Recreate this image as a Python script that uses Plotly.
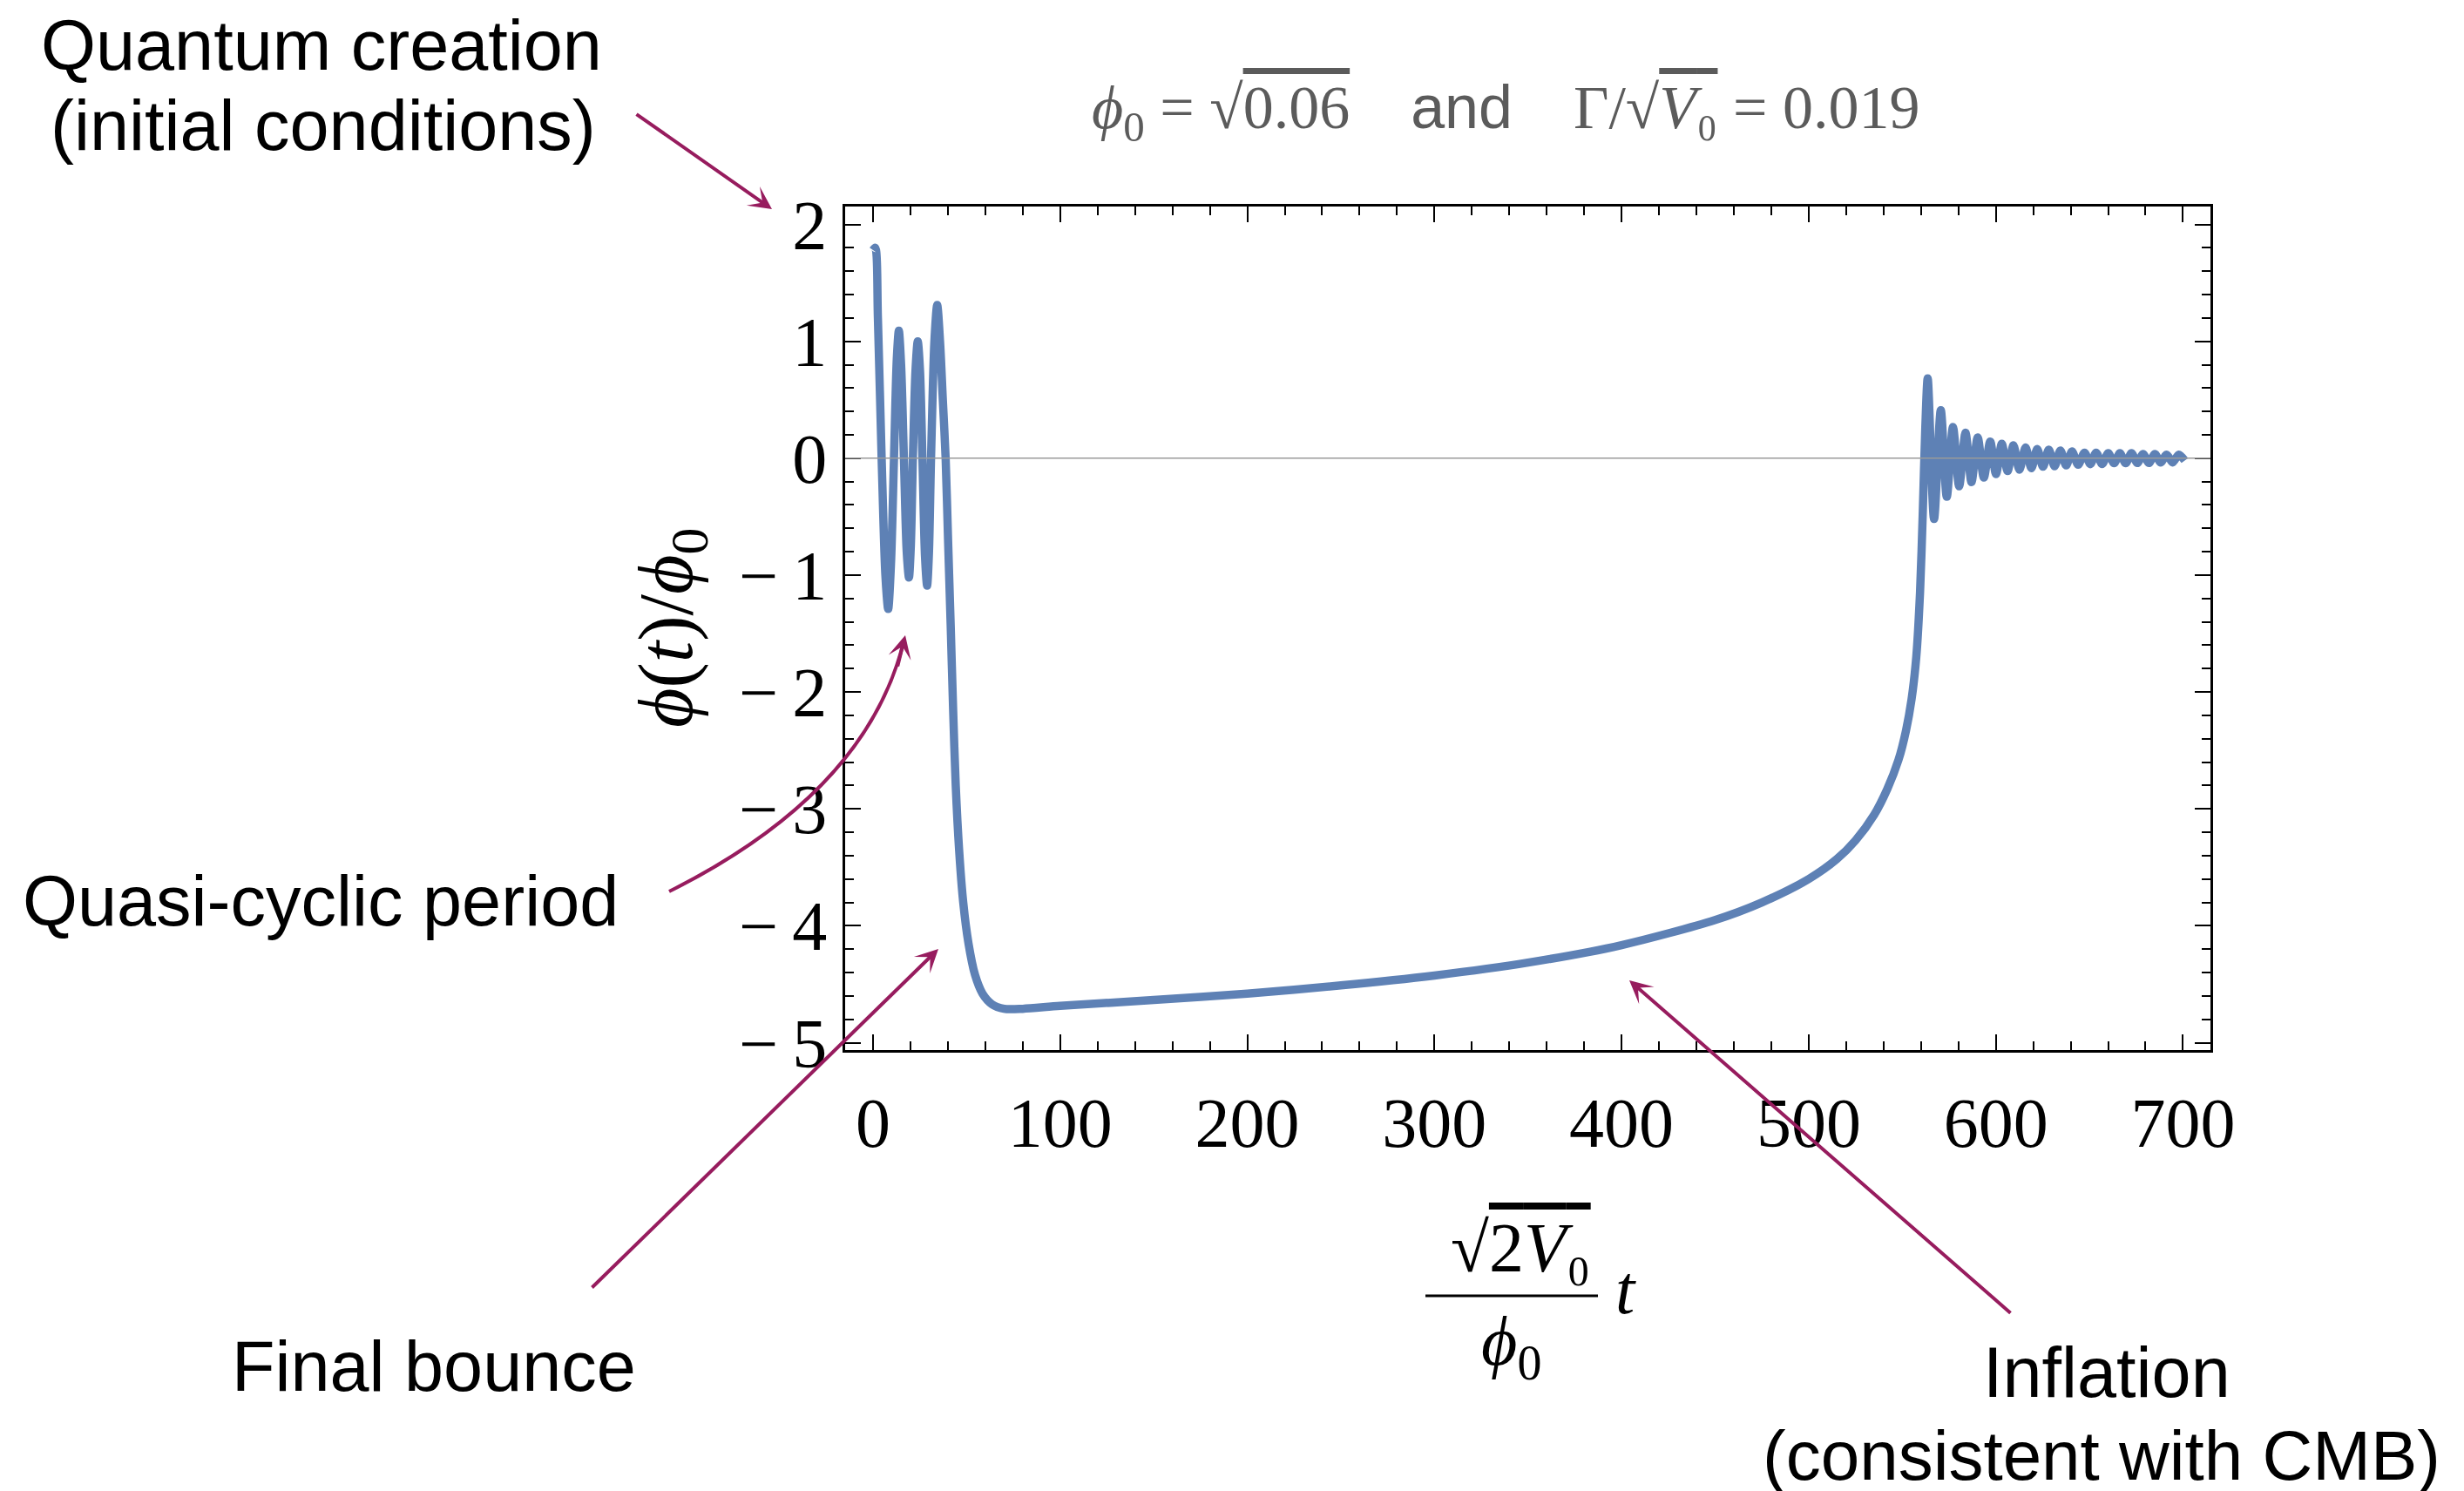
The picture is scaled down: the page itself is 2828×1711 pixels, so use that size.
import plotly.graph_objects as go

# ---------------- data ----------------
t_vals = [0, 1.2, 2.6, 4.6, 6.6, 8.1, 9.6, 11.2, 12.7, 13.8, 15.0, 16.5, 18.0, 19.2,
          20.2, 21.3, 22.7, 23.9, 25.1, 26.4, 27.8, 28.9, 29.9, 31.0, 32.8, 34.3,
          35.8, 37.3, 38.8, 40.1, 41.5, 42.8, 44.2, 46.0, 48.2, 51.0, 54.5, 58.5,
          63.5, 70.0, 80.0,
          100, 150, 200, 250, 300, 350, 400, 450, 475, 500, 515, 525, 535, 542,
          548, 552, 555, 557.5, 559.5, 561.0, 562.3,
          563.6, 567.0, 570.6, 573.8, 577.1, 580.4, 583.8, 587.0, 590.3, 593.6,
          597.0, 600.1, 603.2, 606.3, 609.4, 612.6, 615.9, 619.0, 622.1, 625.2,
          628.3, 631.4, 634.5, 637.6, 640.7, 644.0, 647.4, 650.5, 653.6, 656.8,
          660.1, 663.2, 666.3, 669.4, 672.5, 675.6, 678.7, 681.8, 685.0, 688.1,
          691.3, 694.5, 697.8, 701.0]
phi_vals = [1.78, 1.80, 1.20, 0.0, -1.00, -1.29, -0.90, 0.0, 0.85, 1.09, 0.80, 0.0, -0.80, -1.02,
            -0.75, 0.0, 0.75, 1.00, 0.75, 0.0, -0.85, -1.09, -0.80, 0.0, 1.00, 1.31,
            1.00, 0.50, 0.0, -0.70, -1.43, -2.15, -2.80, -3.35, -3.80, -4.15, -4.42, -4.58,
            -4.67, -4.71, -4.71,
            -4.685, -4.635, -4.58, -4.51, -4.425, -4.315, -4.165, -3.95, -3.80, -3.60, -3.43, -3.27, -3.05, -2.83,
            -2.58, -2.33, -2.06, -1.70, -1.15, -0.45, 0.25,
            0.683, -0.52, 0.41, -0.33, 0.267, -0.24, 0.218, -0.205, 0.178, -0.166,
            0.143, -0.136, 0.123, -0.11, 0.11, -0.098, 0.091, -0.085, 0.078, -0.073,
            0.073, -0.068, 0.066, -0.061, 0.058, -0.056, 0.048, -0.051, 0.048, -0.049,
            0.043, -0.043, 0.043, -0.043, 0.043, -0.041, 0.036, -0.041, 0.036, -0.036,
            0.031, -0.036, 0.031, -0.02]

x_ticks = [0, 100, 200, 300, 400, 500, 600, 700]
y_ticks = [-5, -4, -3, -2, -1, 0, 1, 2]
x_range = [-14.9, 714.7]
y_range = [-5.063, 2.153]

# ---------------- styling ----------------
W, H = 2828, 1711
L, R, T, B = 970, 2537, 237, 1205
CURVE = "#5E81B5"
ARROW = "#971C5E"
SERIF = "Liberation Serif, DejaVu Serif, serif"
SANS = "Liberation Sans, Arial, sans-serif"


def px(x):
    return (x - L) / (R - L)


def py(y):
    return (B - y) / (B - T)


fig = go.Figure()
fig.add_trace(go.Scatter(x=t_vals, y=phi_vals, mode="lines",
                         line=dict(color=CURVE, width=9.5, shape="spline", smoothing=0.8),
                         hoverinfo="skip", showlegend=False))

axis_common = dict(showgrid=False, zeroline=False, showline=True, linecolor="black",
                   linewidth=2.5, mirror="allticks", ticks="inside", tickwidth=2,
                   ticklen=18, tickcolor="black",
                   tickfont=dict(family=SERIF, size=80, color="black"))

fig.update_xaxes(range=x_range, tickvals=x_ticks, ticktext=[str(v) for v in x_ticks],
                 minor=dict(ticks="inside", dtick=20, tick0=0, ticklen=10, tickwidth=2,
                            tickcolor="black"),
                 ticklabelstandoff=12, **axis_common)
fig.update_yaxes(range=y_range, tickvals=y_ticks,
                 ticktext=[("\u2212\u2009" + str(-v)) if v < 0 else str(v) for v in y_ticks],
                 minor=dict(ticks="inside", dtick=0.2, tick0=0, ticklen=10, tickwidth=2,
                            tickcolor="black"),
                 ticklabelstandoff=2, **axis_common)

shapes = [dict(type="line", xref="paper", x0=0, x1=1, yref="y", y0=0, y1=0,
               line=dict(color="#9a9a9a", width=1.5), layer="above")]

# x-axis title: fraction bar
shapes.append(dict(type="line", xref="paper", yref="paper", x0=px(1636), x1=px(1834),
                   y0=py(1487), y1=py(1487), line=dict(color="black", width=3)))

# curved arrow (quasi-cyclic period)
sx, sy = 768, 1023
cx, cy = 994, 910
ex, ey = 1037, 737
shapes.append(dict(type="path", xref="paper", yref="paper",
                   path=f"M {px(sx)},{py(sy)} Q {px(cx)},{py(cy)} {px(ex)},{py(ey)}",
                   line=dict(color=ARROW, width=4)))

annotations = []


def text(x, y, s, size=81, family=SANS, color="black", angle=0):
    annotations.append(dict(x=px(x), y=py(y), xref="paper", yref="paper", text=s,
                            showarrow=False, xanchor="center", yanchor="middle",
                            textangle=angle, borderpad=0,
                            font=dict(family=family, size=size, color=color)))


def arrow(tx, ty, hx, hy):
    annotations.append(dict(x=px(hx), y=py(hy), xref="paper", yref="paper", text="",
                            showarrow=True, axref="pixel", ayref="pixel",
                            ax=tx - hx, ay=ty - hy, arrowhead=3, arrowsize=1.1,
                            arrowwidth=4, arrowcolor=ARROW, standoff=0))


# labels
text(369, 52, "Quantum creation")
text(371, 144, "(initial conditions)")
text(368, 1034, "Quasi-cyclic period")
text(498, 1568, "Final bounce")
text(2418, 1575, "Inflation")
text(2412, 1670, "(consistent with CMB)", size=80)

# arrows
arrow(729, 130, 886, 240)
arrow(678, 1479, 1077, 1089)
arrow(2309, 1508, 1870, 1125)
arrow(ex - 0.24 * 30, ey + 0.97 * 30, 1039, 729)

# title
nb = "\u00a0"
OV = "<span style='text-decoration:overline'>"
title = ("<i>\u03d5</i><sub>0</sub> = \u221a" + OV + "0.06</span>"
         + nb * 4 + "<span style='font-family:Liberation Sans'>and</span>" + nb * 4
         + "\u0393/\u221a" + OV + "<i>V</i>\u2080</span> = 0.019")
text(1728, 128, title, size=70, family=SERIF, color="#5b5b5b")

# y-axis title
text(770, 721, "<i>\u03d5</i>(<i>t</i>)/<i>\u03d5</i><sub>0</sub>", size=88, family=SERIF, angle=-90)

# x-axis title pieces
text(1745, 1432, "\u221a" + OV + "2<i>V</i>\u2080</span>", size=80, family=SERIF)
text(1734, 1545, "<i>\u03d5</i><sub>0</sub>", size=80, family=SERIF)
text(1866, 1480, "<i>t</i>", size=80, family=SERIF)

fig.update_layout(width=W, height=H, margin=dict(l=L, r=W - R, t=T, b=H - B),
                  paper_bgcolor="white", plot_bgcolor="white",
                  shapes=shapes, annotations=annotations, showlegend=False)

fig.write_html("out.html")
